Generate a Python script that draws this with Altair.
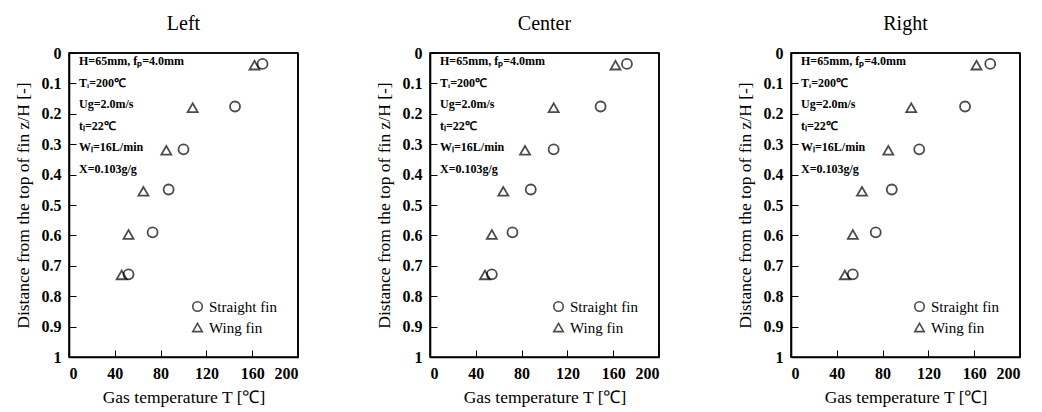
import altair as alt
import pandas as pd

panels = ["Left", "Center", "Right"]
z_straight = [0.036, 0.176, 0.317, 0.449, 0.590, 0.728]
z_wing = [0.040, 0.180, 0.320, 0.455, 0.597, 0.730]
T_straight = {
    "Left": [169, 145, 100, 87, 73, 52],
    "Center": [172, 149, 108, 88, 72, 54],
    "Right": [174, 152, 112, 88, 74, 54],
}
T_wing = {
    "Left": [162, 108, 85, 65, 52, 46],
    "Center": [162, 108, 83, 64, 54, 48],
    "Right": [162, 105, 85, 62, 54, 47],
}
fin_types = ["Straight fin", "Wing fin"]
x_labels = [0, 40, 80, 120, 160, 200]
y_labels = [0, 0.1, 0.2, 0.3, 0.4, 0.5, 0.6, 0.7, 0.8, 0.9, 1]
note_lines = ["H=65mm, fₚ=4.0mm", "Tᵢ=200℃", "Ug=2.0m/s", "tₗ=22℃", "Wₗ=16L/min", "X=0.103g/g"]

FONT = "Liberation Serif"
W, H = 229, 304

rows = []
for p in panels:
    for t, z in zip(T_straight[p], z_straight):
        rows.append({"panel": p, "fin": fin_types[0], "T": t, "z": z})
    for t, z in zip(T_wing[p], z_wing):
        rows.append({"panel": p, "fin": fin_types[1], "T": t, "z": z})
df = pd.DataFrame(rows)

xscale = alt.Scale(domain=[0, 200], nice=False, zero=False)
yscale = alt.Scale(domain=[0, 1], reverse=True, nice=False, zero=False)
common = dict(domain=True, domainColor="black", domainWidth=1.6, ticks=False,
              grid=True, gridColor="black", gridOpacity=1, gridWidth=1, gridDash=[7, 2000],
              labelOverlap=False)
xaxis = alt.Axis(values=x_labels, title="Gas temperature T [℃]",
                 labelPadding=8, titlePadding=7, **common)
yaxis = alt.Axis(values=y_labels, format="~g",
                 title="Distance from the top of fin    z/H [-]",
                 labelPadding=8, titlePadding=9, **common)


def edge(**enc):
    return alt.Chart(pd.DataFrame({"k": [0]})).mark_rule(color="black", strokeWidth=1.6).encode(**enc)


def panel(name):
    d = df[df.panel == name]
    pts = alt.Chart(d).mark_point(filled=False, color="black", size=100, strokeWidth=1.8).encode(
        x=alt.X("T:Q", scale=xscale, axis=xaxis),
        y=alt.Y("z:Q", scale=yscale, axis=yaxis),
        shape=alt.Shape("fin:N", scale=alt.Scale(domain=fin_types, range=["circle", "triangle-up"]),
                        legend=alt.Legend(title=None, orient="bottom-right", offset=21,
                                          labelFont=FONT, labelFontSize=15, labelColor="black",
                                          symbolStrokeColor="black", symbolFillColor="transparent",
                                          symbolStrokeWidth=1.6, symbolSize=90, rowPadding=5)),
    )
    top = edge(x=alt.value(0), x2=alt.value(W), y=alt.value(0))
    right = edge(x=alt.value(W), y=alt.value(0), y2=alt.value(H))
    note = alt.Chart(pd.DataFrame({"k": [0]})).mark_text(
        text=note_lines, align="left", baseline="top", font=FONT, fontSize=12,
        fontWeight="bold", lineHeight=21.6, color="black").encode(x=alt.value(10), y=alt.value(3))
    return alt.layer(pts, top, right, note).properties(
        width=W, height=H,
        title=alt.TitleParams(name, font=FONT, fontSize=20, fontWeight="normal", color="black", offset=11))


chart = alt.hconcat(panel("Left"), panel("Center"), panel("Right"), spacing=74).resolve_legend(
    shape="independent").configure(background="white").configure_view(
    stroke="black", strokeWidth=1.6).configure_axis(
    labelFont=FONT, labelFontSize=16, labelFontWeight="bold", labelColor="black",
    titleFont=FONT, titleFontSize=17.5, titleFontWeight="normal", titleColor="black",
    labelOverlap=False)

chart.save("out.html", embed_options={"renderer": "svg", "actions": False})
